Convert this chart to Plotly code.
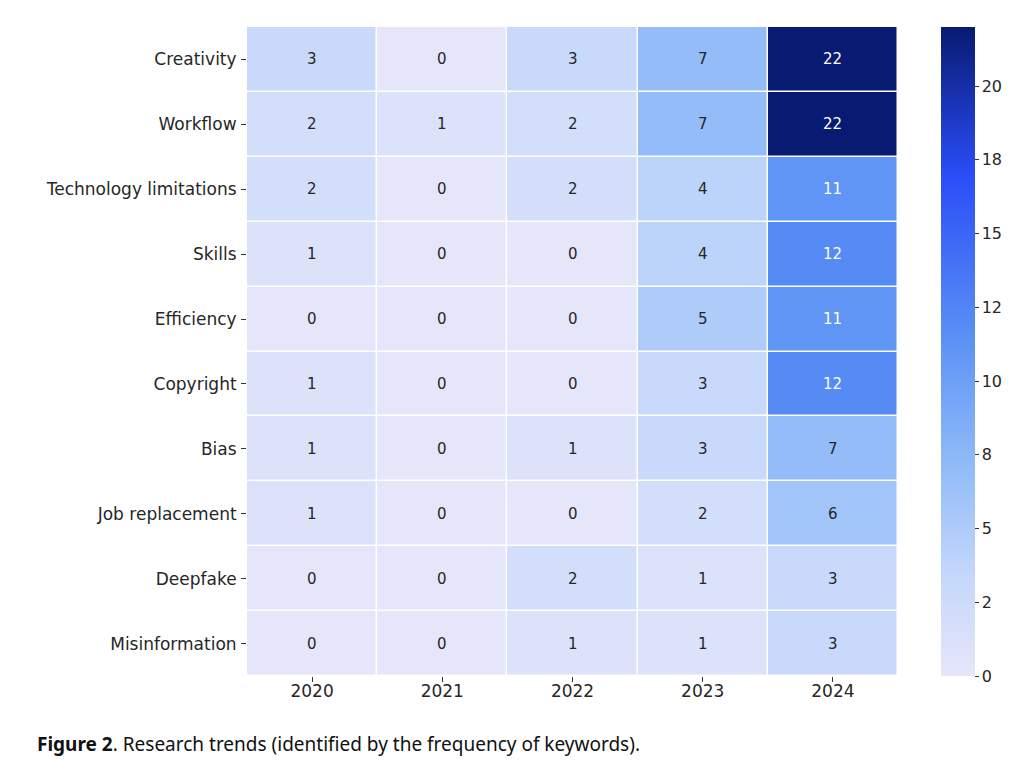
import plotly.graph_objects as go

keywords = ["Creativity", "Workflow", "Technology limitations", "Skills", "Efficiency",
            "Copyright", "Bias", "Job replacement", "Deepfake", "Misinformation"]
years = ["2020", "2021", "2022", "2023", "2024"]

counts = [
    [3, 0, 3, 7, 22],
    [2, 1, 2, 7, 22],
    [2, 0, 2, 4, 11],
    [1, 0, 0, 4, 12],
    [0, 0, 0, 5, 11],
    [1, 0, 0, 3, 12],
    [1, 0, 1, 3, 7],
    [1, 0, 0, 2, 6],
    [0, 0, 2, 1, 3],
    [0, 0, 1, 1, 3],
]

cbar_ticks = [0, 2.5, 5, 7.5, 10, 12.5, 15, 17.5, 20]
cbar_labels = ["0", "2", "5", "8", "10", "12", "15", "18", "20"]

# page body has an 8px margin, so figure coords = screen coords - 8
OFF = 8
W, H = 1024 - OFF, 771 - OFF
L, R, T, B = 247 - OFF, 898 - OFF, 27 - OFF, 676 - OFF
FONT = "DejaVu Sans, Verdana, sans-serif"

colorscale = [
    [0.0, "#e6e6fa"],
    [0.15, "#c6d8fb"],
    [0.33, "#8fbaf8"],
    [0.52, "#5b91f5"],
    [0.77, "#2a4ef8"],
    [1.0, "#081a72"],
]

fig = go.Figure(go.Heatmap(
    z=counts, x=years, y=keywords,
    zmin=0, zmax=22,
    colorscale=colorscale,
    xgap=1.5, ygap=1.5,
    colorbar=dict(
        x=(941 - OFF - L) / (R - L), xanchor="left",
        y=0, yanchor="bottom", len=1, lenmode="fraction", ypad=0, xpad=0,
        thickness=34, thicknessmode="pixels",
        outlinewidth=0,
        tickvals=cbar_ticks, ticktext=cbar_labels,
        ticks="outside", ticklen=4, tickcolor="#333",
        tickfont=dict(family=FONT, size=16, color="#262626"),
    ),
    hoverinfo="skip",
))

annotations = []
for i, kw in enumerate(keywords):
    for j, yr in enumerate(years):
        v = counts[i][j]
        annotations.append(dict(
            x=j, y=i, text=str(v), showarrow=False,
            font=dict(family=FONT, size=15,
                      color="white" if v >= 10 else "#262626"),
        ))

annotations.append(dict(
    xref="paper", yref="paper",
    x=(35 - OFF - L) / (R - L), y=(B - (744 - OFF)) / (B - T),
    xanchor="left", yanchor="middle", showarrow=False,
    text="<b>Figure 2</b>. Research trends (identified by the frequency of keywords).",
    font=dict(family="Noto Sans", size=19, color="#111"),
))

fig.update_layout(
    width=W, height=H,
    margin=dict(l=L, r=W - R, t=T, b=H - B, autoexpand=False),
    paper_bgcolor="white", plot_bgcolor="white",
    xaxis=dict(type="category", ticks="outside", ticklen=5, tickcolor="#333",
               showgrid=False, zeroline=False, automargin=False,
               ticklabelstandoff=-5,
               tickfont=dict(family=FONT, size=17, color="#262626")),
    yaxis=dict(type="category", autorange="reversed", ticks="outside", ticklen=5,
               tickcolor="#333", showgrid=False, zeroline=False, automargin=False,
               ticklabelstandoff=1,
               tickfont=dict(family=FONT, size=17, color="#262626")),
    annotations=annotations,
)

fig.write_html("out.html")
